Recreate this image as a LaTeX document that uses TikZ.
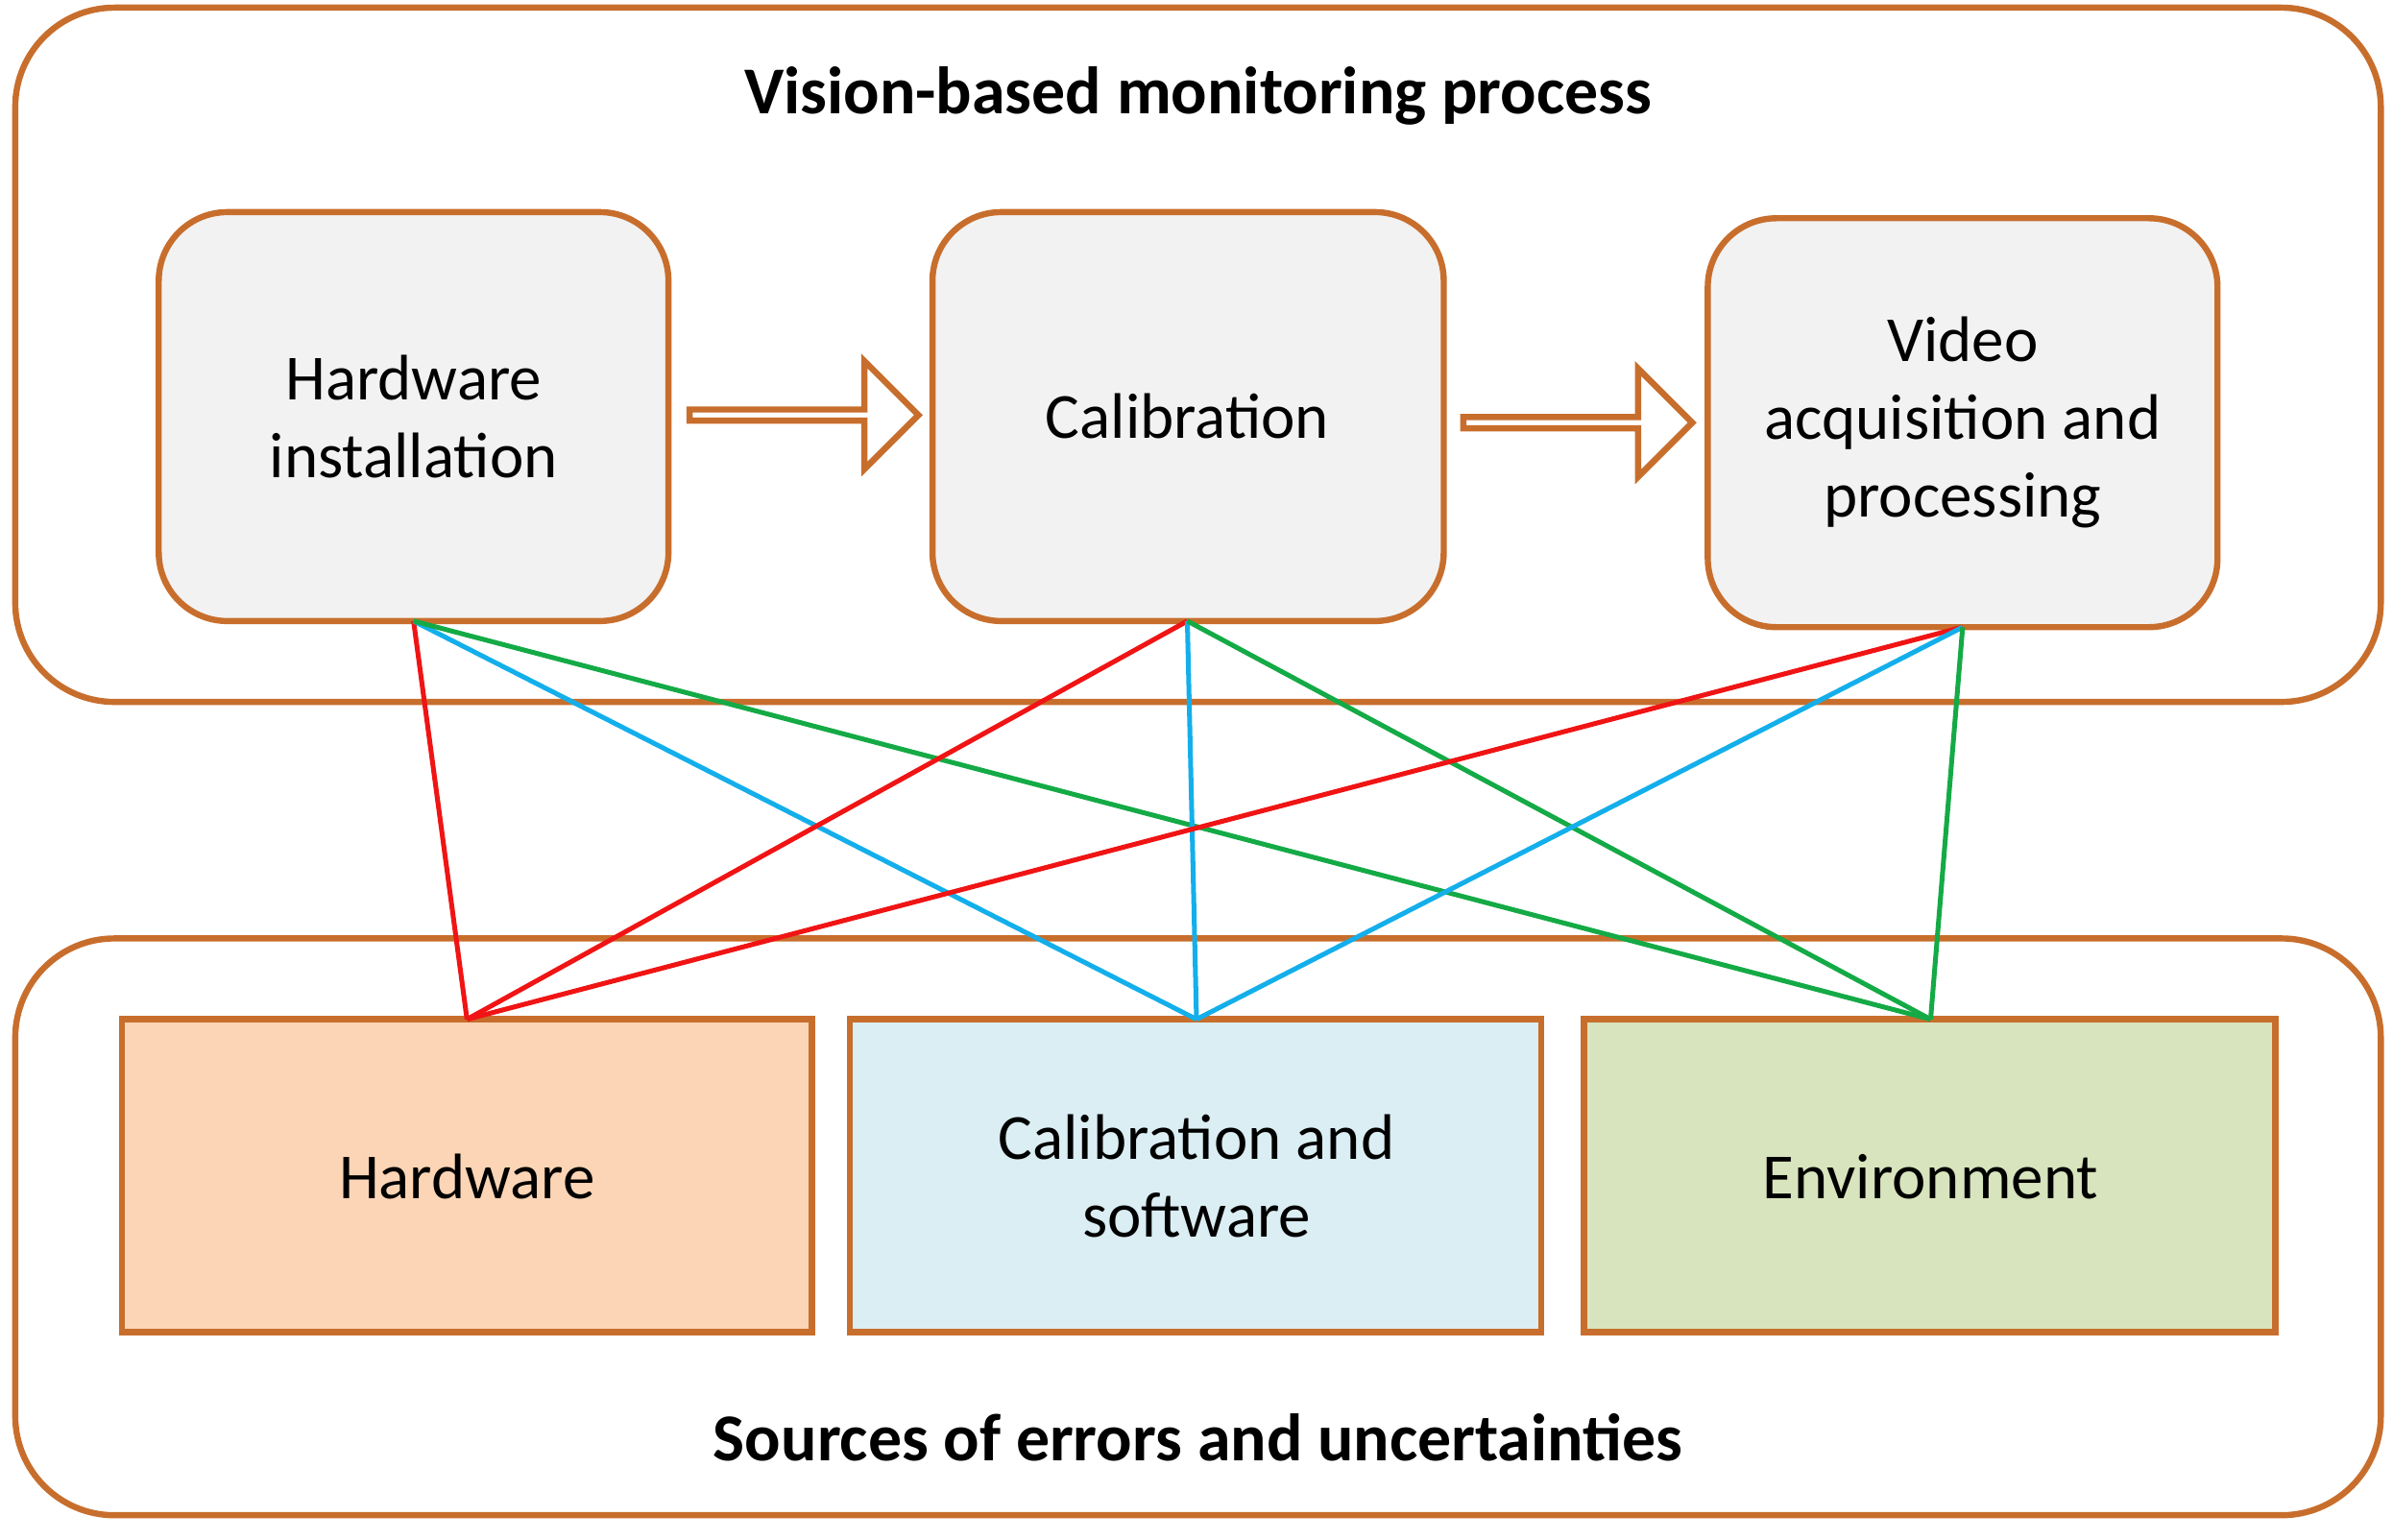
\documentclass[tikz,border=0pt]{standalone}
\usepackage{fontspec}
\setmainfont{Carlito}
\usetikzlibrary{shapes.arrows}
\definecolor{org}{RGB}{200,110,45}
\definecolor{gr}{RGB}{242,242,242}
\definecolor{hwf}{RGB}{251,213,181}
\definecolor{csf}{RGB}{218,238,243}
\definecolor{enf}{RGB}{215,228,189}
\definecolor{rd}{RGB}{240,20,20}
\definecolor{bl}{RGB}{20,175,235}
\definecolor{gn}{RGB}{20,170,70}
\begin{document}
\begin{tikzpicture}[x=0.02cm,y=-0.02cm,
 outer/.style={draw=org,line width=2.3pt,rounded corners=1.3cm},
 stage/.style={draw=org,line width=2.3pt,fill=gr,rounded corners=0.9cm},
 src/.style={draw=org,line width=2.3pt},
 txt/.style={align=center,font=\fontsize{24}{29}\selectfont},
 ttl/.style={font=\fontsize{25}{30}\selectfont\bfseries},
 barrow/.style={single arrow,draw=org,line width=2.3pt,fill=white,minimum width=1.42cm,single arrow head extend=0.35cm,single arrow tip angle=90,minimum height=3cm,inner sep=0pt},
 con/.style={line width=1.8pt}]
\useasboundingbox (0,0) rectangle (1568,1009);
\draw[outer] (10,5) rectangle (1560,460);
\draw[outer] (10,615) rectangle (1560,993);
\node[ttl] (t1) at (785,63) {Vision-based monitoring process};
\node[ttl] (t2) at (785,942) {Sources of errors and uncertainties};
\draw[stage] (104,139) rectangle (438,407);
\draw[stage] (611,139) rectangle (946,407);
\draw[stage] (1119,143) rectangle (1453,411);
\node[txt] (a) at (271,273) {Hardware\\installation};
\node[txt] (b) at (778,273) {Calibration};
\node[txt] (c) at (1286,277) {Video\\acquisition and\\processing};
\node[barrow] (ar1) at (525,272) {};
\node[barrow] (ar2) at (1032,277) {};
\draw[src,fill=hwf] (80,668) rectangle (532,873);
\draw[src,fill=csf] (557,668) rectangle (1010,873);
\draw[src,fill=enf] (1038,668) rectangle (1491,873);
\node[txt] (h) at (306,771) {Hardware};
\node[txt] (s) at (784,771) {Calibration and\\software};
\node[txt] (e) at (1265,771) {Environment};
\coordinate (A) at (271,407); \coordinate (B) at (778,407); \coordinate (C) at (1286,411);
\coordinate (H) at (306,668); \coordinate (S) at (784,668); \coordinate (E) at (1265,668);
\foreach \p in {A,B,C}{
 \draw[con,rd] (\p) -- (H);
 \draw[con,bl] (\p) -- (S);
 \draw[con,gn] (\p) -- (E);}
\end{tikzpicture}
\end{document}
